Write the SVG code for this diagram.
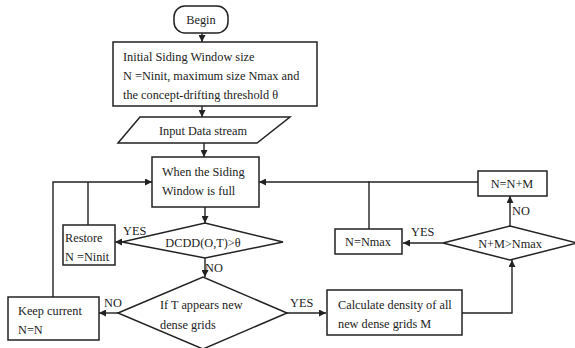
<svg xmlns="http://www.w3.org/2000/svg" width="575" height="348" viewBox="0 0 575 348">
<style>
.s{fill:#fff;stroke:#222;stroke-width:1.5}
.c{fill:none;stroke:#222;stroke-width:1.4}
text{font-family:"Liberation Serif","Times New Roman",serif;font-size:12.3px;fill:#222}
.m{text-anchor:middle}
</style>
<defs>
<marker id="a" viewBox="0 0 10 10" refX="10" refY="5" markerWidth="7" markerHeight="7" markerUnits="userSpaceOnUse" orient="auto">
<path d="M0,0 L10,5 L0,10 Z" fill="#222"/>
</marker>
</defs>
<rect width="575" height="348" fill="#fff"/>
<g id="connectors" class="c">
<line x1="202" y1="33" x2="202" y2="42" marker-end="url(#a)"/>
<line x1="202" y1="106" x2="202" y2="117" marker-end="url(#a)"/>
<line x1="204" y1="143" x2="204" y2="157" marker-end="url(#a)"/>
<line x1="205" y1="207" x2="205" y2="223" marker-end="url(#a)"/>
<line x1="122" y1="242" x2="115" y2="242" marker-end="url(#a)"/>
<line x1="205" y1="258" x2="205" y2="277" marker-end="url(#a)"/>
<line x1="118" y1="313" x2="99" y2="313" marker-end="url(#a)"/>
<line x1="287" y1="313" x2="326" y2="313" marker-end="url(#a)"/>
<polyline points="462,313 512,313 512,260" marker-end="url(#a)"/>
<line x1="443" y1="243" x2="403" y2="243" marker-end="url(#a)"/>
<line x1="510" y1="226" x2="510" y2="196" marker-end="url(#a)"/>
<polyline points="478,182 369,182 369,229"/>
<line x1="369" y1="182" x2="259" y2="182" marker-end="url(#a)"/>
<polyline points="53,297 53,182 152,182" marker-end="url(#a)"/>
<line x1="88" y1="225" x2="88" y2="182"/>
</g>
<g id="begin">
<rect class="s" x="174" y="6" width="54" height="27" rx="11" stroke-width="1.2"/>
<text class="m" x="201" y="24">Begin</text>
</g>
<g id="init">
<rect class="s" x="113" y="42" width="204" height="64"/>
<text x="123" y="61">Initial  Siding Window size</text>
<text x="123" y="80">N =Ninit, maximum size Nmax and</text>
<text x="123" y="99">the concept-drifting threshold θ</text>
</g>
<g id="input">
<polygon class="s" points="140,117 290,117 257,143 118,143"/>
<text class="m" x="203" y="135">Input Data stream</text>
</g>
<g id="window">
<rect class="s" x="152" y="157" width="107" height="50"/>
<text x="162" y="176">When the Siding</text>
<text x="162" y="195">Window is full</text>
</g>
<g id="dcdd">
<polygon class="s" points="122,242 205,223 283,242 205,258"/>
<text class="m" x="203" y="247">DCDD(O,T)&gt;θ</text>
<text x="123" y="235">YES</text>
<text x="205" y="272">NO</text>
</g>
<g id="restore">
<rect class="s" x="63" y="225" width="52" height="40"/>
<text x="65" y="242">Restore</text>
<text x="65" y="261">N =Ninit</text>
</g>
<g id="ift">
<polygon class="s" points="118,313 203,277 287,313 203,349"/>
<text x="160" y="309">If T appears new</text>
<text x="160" y="329">dense grids</text>
<text x="104" y="307">NO</text>
<text x="290" y="307">YES</text>
</g>
<g id="keep">
<rect class="s" x="8" y="297" width="91" height="43"/>
<text x="18" y="315">Keep current</text>
<text x="18" y="334">N=N</text>
</g>
<g id="calc">
<rect class="s" x="327" y="290" width="135" height="45"/>
<text x="338" y="309">Calculate density of all</text>
<text x="338" y="328">new dense grids M</text>
</g>
<g id="nm">
<polygon class="s" points="443,243 510,226 577,243 510,260"/>
<text class="m" x="510" y="248">N+M&gt;Nmax</text>
<text x="411" y="236">YES</text>
<text x="512" y="215">NO</text>
</g>
<g id="nmax">
<rect class="s" x="335" y="229" width="67" height="25"/>
<text class="m" x="368" y="246">N=Nmax</text>
</g>
<g id="nplus">
<rect class="s" x="478" y="171" width="69" height="25"/>
<text class="m" x="512" y="188">N=N+M</text>
</g>
</svg>
